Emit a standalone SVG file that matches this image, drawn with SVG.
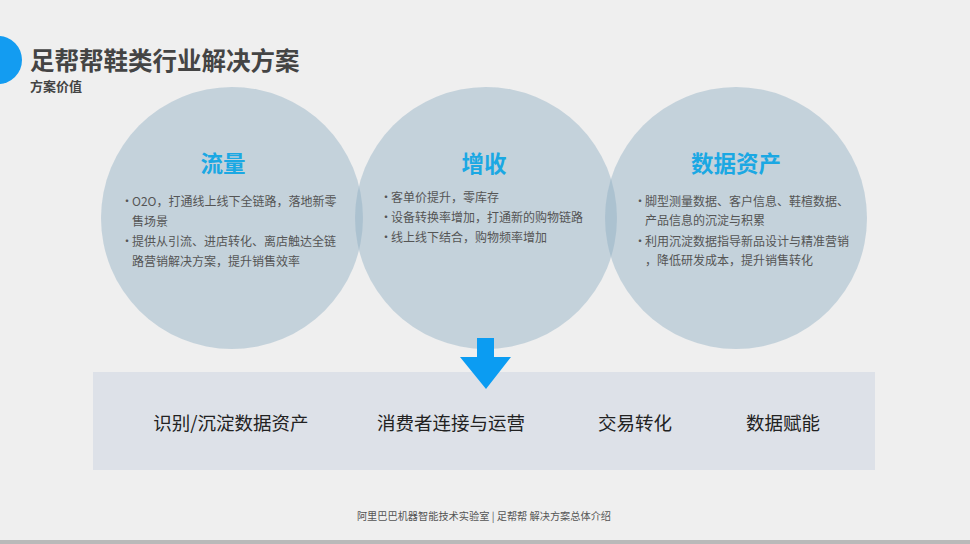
<svg xmlns="http://www.w3.org/2000/svg" width="970" height="544" viewBox="0 0 970 544">
<style>
text{font-family:"Noto Sans CJK SC","Noto Sans",sans-serif}
.title{font-size:24.5px;font-weight:bold;fill:#444}
.sub{font-size:13px;font-weight:bold;fill:#444}
.circle{fill:#90afc3;fill-opacity:0.45}
.head{font-size:22.5px;font-weight:bold;fill:#1ba8e3;text-anchor:middle}
.item{font-size:12px;fill:#555}
.lbl{font-size:18.5px;fill:#222;text-anchor:middle}
.foot{font-size:10.2px;fill:#555;text-anchor:middle}
</style>
<rect x="0" y="0" width="970" height="544" fill="#efefef"/>
<rect x="0" y="540" width="970" height="4" fill="#b9b9b9"/>
<g id="header">
<circle cx="-2" cy="60" r="24" fill="#139cf1"/>
<text class="title" x="30" y="70">足帮帮鞋类行业解决方案</text>
<text class="sub" x="30" y="91">方案价值</text>
</g>
<g id="node-liuliang">
<circle class="circle" cx="232" cy="218" r="131"/>
<text class="head" x="223" y="172">流量</text>
<text class="item" x="121" y="206">•<tspan x="132">O2O，打通线上线下全链路，落地新零</tspan></text>
<text class="item" x="132" y="226">售场景</text>
<text class="item" x="121" y="246">•<tspan x="132">提供从引流、进店转化、离店触达全链</tspan></text>
<text class="item" x="132" y="266">路营销解决方案，提升销售效率</text>
</g>
<g id="node-zengshou">
<circle class="circle" cx="486" cy="218" r="131"/>
<text class="head" x="484" y="172">增收</text>
<text class="item" x="380" y="202">•<tspan x="391">客单价提升，零库存</tspan></text>
<text class="item" x="380" y="222">•<tspan x="391">设备转换率增加，打通新的购物链路</tspan></text>
<text class="item" x="380" y="242">•<tspan x="391">线上线下结合，购物频率增加</tspan></text>
</g>
<g id="node-shujuzichan">
<circle class="circle" cx="736" cy="218" r="131"/>
<text class="head" x="736" y="172">数据资产</text>
<text class="item" x="634" y="206">•<tspan x="645">脚型测量数据、客户信息、鞋楦数据、</tspan></text>
<text class="item" x="645" y="225">产品信息的沉淀与积累</text>
<text class="item" x="634" y="246">•<tspan x="645">利用沉淀数据指导新品设计与精准营销</tspan></text>
<text class="item" x="645" y="265">，降低研发成本，提升销售转化</text>
</g>
<g id="node-bar">
<rect x="93" y="372" width="782" height="98" fill="#dde1e8"/>
<text class="lbl" x="231" y="430">识别/沉淀数据资产</text>
<text class="lbl" x="451" y="430">消费者连接与运营</text>
<text class="lbl" x="635" y="430">交易转化</text>
<text class="lbl" x="783" y="430">数据赋能</text>
</g>
<g id="connectors">
<polygon points="477,338 494,338 494,357 511,357 486,389 460,357 477,357" fill="#0b9cf2"/>
</g>
<g id="footer">
<text class="foot" x="484" y="520">阿里巴巴机器智能技术实验室 | 足帮帮 解决方案总体介绍</text>
</g>
</svg>
